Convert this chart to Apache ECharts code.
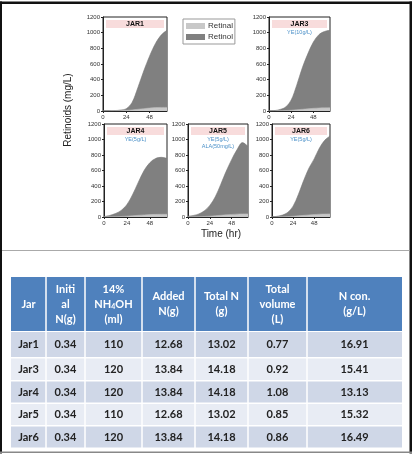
<!DOCTYPE html>
<html><head><meta charset="utf-8">
<script src="https://cdn.jsdelivr.net/npm/echarts@6/dist/echarts.min.js"></script>
<style>html,body{margin:0;padding:0;background:#fff;}#c{width:415px;height:455px;}</style>
</head><body><div id="c"></div>
<script>
// ---------- chart data ----------
const timeH = [0, 6, 12, 18, 24, 30, 36, 42, 48, 54, 60, 66];
const jarNames = ['JAR1', 'JAR3', 'JAR4', 'JAR5', 'JAR6'];
const jarNotes = [[], ['YE(10g/L)'], ['YE(5g/L)'], ['YE(5g/L)', 'ALA(50mg/L)'], ['YE(5g/L)']];
const retinolJar1 = [0, 2, 5, 12, 30, 110, 300, 510, 700, 860, 970, 1030];
const retinolJar3 = [0, 5, 20, 50, 140, 330, 550, 730, 880, 975, 1015, 1030];
const retinolJar4 = [5, 20, 45, 85, 160, 290, 450, 600, 700, 755, 770, 755];
const retinolJar5 = [10, 20, 40, 80, 150, 260, 420, 590, 740, 870, 960, 910];
const retinolJar6 = [0, 10, 25, 60, 140, 290, 470, 630, 750, 890, 990, 1045];
const retinalJar1 = [0, 1, 2, 4, 8, 14, 22, 30, 38, 44, 46, 46];
const retinalJar3 = [0, 1, 3, 6, 10, 16, 22, 28, 34, 38, 40, 42];
const retinalJar4 = [0, 2, 4, 7, 11, 16, 22, 27, 31, 34, 35, 35];
const retinalJar5 = [0, 2, 4, 7, 11, 16, 22, 28, 33, 37, 40, 40];
const retinalJar6 = [0, 1, 3, 6, 10, 15, 21, 27, 32, 36, 38, 40];
const xTickValues = [0, 24, 48];
const yTickLabels = [0, 200, 400, 600, 800, 1000, 1200];

// ---------- table data ----------
const tableHeaders = ['Jar', 'Initi\nal\nN(g)', '14%\nNH{s|4}OH\n(ml)', 'Added\nN(g)', 'Total N\n(g)', 'Total\nvolume\n(L)', 'N con.\n(g/L)'];
const jarLabels = ['Jar1', 'Jar3', 'Jar4', 'Jar5', 'Jar6'];
const initialN = [0.34, 0.34, 0.34, 0.34, 0.34];
const nh4ohMl = [110, 120, 120, 110, 120];
const addedN = [12.68, 13.84, 13.84, 12.68, 13.84];
const totalN = [13.02, 14.18, 14.18, 13.02, 14.18];
const totalVolume = [0.77, 0.92, 1.08, 0.85, 0.86];
const nCon = [16.91, 15.41, 13.13, 15.32, 16.49];

// ---------- layout ----------
const retinol = [retinolJar1, retinolJar3, retinolJar4, retinolJar5, retinolJar6];
const retinal = [retinalJar1, retinalJar3, retinalJar4, retinalJar5, retinalJar6];
const panels = [
  {left: 103, top: 17, width: 64, height: 94},
  {left: 269, top: 17, width: 61, height: 94},
  {left: 104, top: 124, width: 63, height: 93},
  {left: 188, top: 124, width: 60, height: 93},
  {left: 272, top: 124, width: 58, height: 93}
];
const axisFont = 'Liberation Sans';
const grids = [], xAxes = [], yAxes = [], series = [], graphics = [];

panels.forEach((p, i) => {
  grids.push({left: p.left, top: p.top, width: p.width, height: p.height, show: true,
    borderColor: '#222', borderWidth: 1, backgroundColor: 'transparent'});
  xAxes.push({type: 'value', gridIndex: i, min: 0, max: 66,
    axisLine: {lineStyle: {color: '#222', width: 1}},
    axisTick: {customValues: xTickValues, length: 2, lineStyle: {color: '#222'}},
    axisLabel: {customValues: xTickValues, fontSize: 6, color: '#333', margin: 3, fontFamily: axisFont},
    splitLine: {show: false}});
  yAxes.push({type: 'value', gridIndex: i, min: 0, max: 1200, interval: 200,
    axisLine: {show: true, lineStyle: {color: '#222', width: 1}},
    axisTick: {show: true, length: 2, lineStyle: {color: '#222'}},
    axisLabel: {fontSize: 6, color: '#333', margin: 3, fontFamily: axisFont,
      formatter: v => yTickLabels.includes(v) ? String(v) : ''},
    splitLine: {show: false}});
  series.push({type: 'line', name: 'Retinol', xAxisIndex: i, yAxisIndex: i,
    data: timeH.map((t, k) => [t, retinol[i][k]]), smooth: 0.35, showSymbol: false, silent: true,
    itemStyle: {color: '#808080'}, lineStyle: {color: '#777', width: 0.6},
    areaStyle: {color: '#808080', opacity: 1}, z: 2});
  series.push({type: 'line', name: 'Retinal', xAxisIndex: i, yAxisIndex: i,
    data: timeH.map((t, k) => [t, retinal[i][k]]), smooth: 0.35, showSymbol: false, silent: true,
    itemStyle: {color: '#c8c8c8'}, lineStyle: {color: '#bbb', width: 0.6},
    areaStyle: {color: '#c8c8c8', opacity: 1}, z: 3});
  // title box
  const bx = p.left + 3, by = p.top + 3, bw = p.width - 6, bh = 8;
  graphics.push({type: 'rect', shape: {x: bx, y: by, width: bw, height: bh}, style: {fill: '#f8dcdc'}, z: 10});
  graphics.push({type: 'text', x: bx + bw / 2, y: by + bh / 2 + 0.5, z: 11,
    style: {text: jarNames[i], fill: '#111', font: 'bold 7px ' + axisFont,
      textAlign: 'center', textVerticalAlign: 'middle', align: 'center', verticalAlign: 'middle'}});
  jarNotes[i].forEach((n, k) => {
    graphics.push({type: 'text', x: bx + bw / 2, y: by + bh + 4 + k * 7.7, z: 11,
      style: {text: n, fill: '#4a90c8', font: '5.5px ' + axisFont,
        textAlign: 'center', textVerticalAlign: 'middle', align: 'center', verticalAlign: 'middle'}});
  });
});

// axis names
graphics.push({type: 'text', x: 68, y: 110, rotation: Math.PI / 2, z: 11,
  style: {text: 'Retinoids (mg/L)', fill: '#222', font: '10px ' + axisFont,
    textAlign: 'center', textVerticalAlign: 'middle', align: 'center', verticalAlign: 'middle'}});
graphics.push({type: 'text', x: 221, y: 234, z: 11,
  style: {text: 'Time (hr)', fill: '#222', font: '10px ' + axisFont,
    textAlign: 'center', textVerticalAlign: 'middle', align: 'center', verticalAlign: 'middle'}});

// table
const colX = [11, 46, 85, 142, 195, 248, 307, 402];
const headerTop = 277, headerH = 54;
const rowTops = [332, 358.5, 381.5, 404, 426.5];
const rowHs = [25, 21.5, 21, 21, 21];
const tFont = 'Lato';
const rowColors = ['#cfd7e7', '#e8ecf4', '#cfd7e7', '#e8ecf4', '#cfd7e7'];
for (let j = 0; j < 7; j++) {
  const x0 = colX[j] + (j > 0 ? 0.75 : 0), x1 = colX[j + 1] - (j < 6 ? 0.75 : 0);
  const cx = (colX[j] + colX[j + 1]) / 2;
  graphics.push({type: 'rect', shape: {x: x0, y: headerTop, width: x1 - x0, height: headerH}, style: {fill: '#4f81bd'}, z: 5});
  graphics.push({type: 'text', x: cx, y: headerTop + headerH / 2, z: 6,
    style: {text: tableHeaders[j], fill: '#fff', font: 'bold 11px ' + tFont, lineHeight: 15,
      textAlign: 'center', textVerticalAlign: 'middle', align: 'center', verticalAlign: 'middle',
      rich: {s: {fontSize: 7, fontWeight: 'bold', fontFamily: tFont, fill: '#fff', lineHeight: 15, padding: [6, 0, 0, 0]}}}});
  for (let r = 0; r < 5; r++) {
    graphics.push({type: 'rect', shape: {x: x0, y: rowTops[r], width: x1 - x0, height: rowHs[r]}, style: {fill: rowColors[r]}, z: 5});
    const vals = [jarLabels[r], initialN[r].toFixed(2), String(nh4ohMl[r]), addedN[r].toFixed(2),
      totalN[r].toFixed(2), totalVolume[r].toFixed(2), nCon[r].toFixed(2)];
    graphics.push({type: 'text', x: cx, y: rowTops[r] + rowHs[r] / 2, z: 6,
      style: {text: vals[j], fill: '#222', font: 'bold 11px ' + tFont,
        textAlign: 'center', textVerticalAlign: 'middle', align: 'center', verticalAlign: 'middle'}});
  }
}

// frame
graphics.push({type: 'rect', shape: {x: 0, y: 1.5, width: 412, height: 2.5}, style: {fill: '#111'}, z: 20});
graphics.push({type: 'rect', shape: {x: 0, y: 1.5, width: 2, height: 452}, style: {fill: '#111'}, z: 20});
graphics.push({type: 'rect', shape: {x: 409.5, y: 1.5, width: 2.5, height: 452}, style: {fill: '#111'}, z: 20});
graphics.push({type: 'rect', shape: {x: 0, y: 451.5, width: 412, height: 1.5}, style: {fill: '#888'}, z: 20});
graphics.push({type: 'rect', shape: {x: 2, y: 250, width: 407.5, height: 1}, style: {fill: '#aaa'}, z: 20});

const chart = echarts.init(document.getElementById('c'), null, {renderer: 'canvas'});
chart.setOption({
  animation: false,
  backgroundColor: '#fff',
  grid: grids, xAxis: xAxes, yAxis: yAxes, series: series,
  legend: {data: ['Retinal', 'Retinol'], left: 183, top: 19, orient: 'vertical', icon: 'rect',
    itemWidth: 19, itemHeight: 6, itemGap: 3, padding: [3, 2, 3, 3],
    borderColor: '#999', borderWidth: 1, selectedMode: false,
    textStyle: {fontSize: 8, color: '#333', fontFamily: axisFont, padding: [0, 0, 0, -2]}},
  graphic: {elements: graphics}
});
</script></body></html>
